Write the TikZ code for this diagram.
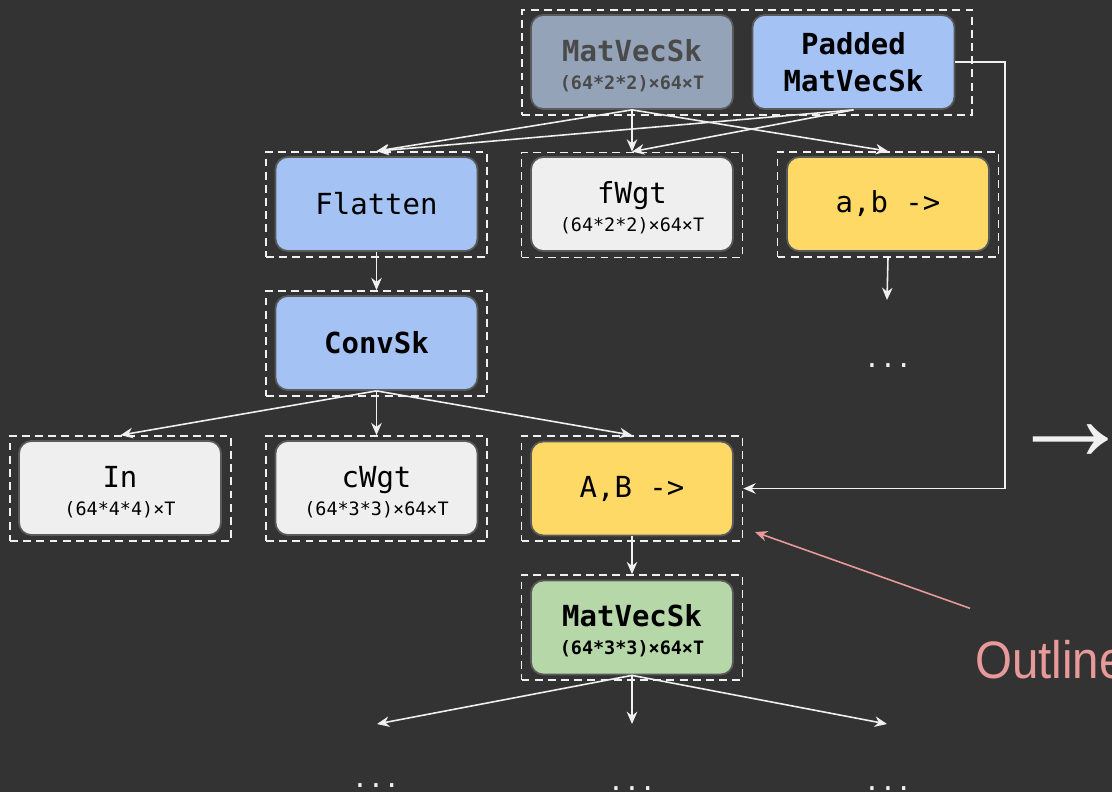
\documentclass[tikz,border=0pt]{standalone}
\usepackage{fontspec}
\setmainfont{Liberation Sans}
\setmonofont{DejaVu Sans Mono}
\newfontfamily\outlinefont[FakeStretch=0.9]{Liberation Sans}
\usetikzlibrary{arrows.meta}
\definecolor{bg}{HTML}{333333}
\definecolor{fg}{HTML}{F0F0F0}
\definecolor{edge}{HTML}{5A5A5A}
\definecolor{greybox}{HTML}{95A3B9}
\definecolor{greytext}{HTML}{4A4A4A}
\definecolor{bluebox}{HTML}{A4C2F4}
\definecolor{lightbox}{HTML}{EFEFEF}
\definecolor{yellowbox}{HTML}{FFD966}
\definecolor{greenbox}{HTML}{B6D7A8}
\definecolor{pink}{HTML}{E89A9A}
\newcommand{\subline}[1]{{\fontsize{10.5}{13}\selectfont #1}}
\newcommand{\tallstrut}{\rule{0pt}{16.5pt}}

\begin{document}
\begin{tikzpicture}[x=0.02cm, y=-0.02cm,
  box/.style = {draw=edge, line width=1pt, rounded corners=7pt, minimum width=4.04cm, minimum height=1.88cm, align=center, inner sep=0pt, font=\ttfamily\fontsize{16.5}{21}\selectfont},
  grp/.style = {draw=fg, line width=1pt, dash pattern=on 4.5pt off 3pt, minimum width=4.42cm, minimum height=2.1cm},
  arr/.style = {draw=fg, line width=0.9pt, -{Stealth[length=7pt,width=6pt]}},
  dots/.style = {text=fg, anchor=base, inner sep=0pt, font=\ttfamily\fontsize{15}{18}\selectfont}]
  \fill[bg] (0,0) rectangle (1112,792);
  \useasboundingbox (0,0) rectangle (1112,792);
  % top group
  \node[grp, minimum width=9cm] (topg) at (747,62.5) {};
  \node[box, fill=greybox, text=greytext, font=\ttfamily\bfseries\fontsize{16.5}{21}\selectfont] (mvs) at (632,62) {\tallstrut MatVecSk\\[-5pt]\subline{(64*2*2)×64×T}};
  \node[box, fill=bluebox, font=\ttfamily\bfseries\fontsize{16.5}{21}\selectfont] (pad) at (853.5,62) {Padded\\MatVecSk};
  % second row
  \node[grp] (flatg) at (376.5,204.5) {};
  \node[box, fill=bluebox] (flat) at (376.5,204) {Flatten};
  \node[grp] (fwgtg) at (632,205) {};
  \node[box, fill=lightbox] (fwgt) at (632,204) {\tallstrut fWgt\\[-5pt]\subline{(64*2*2)×64×T}};
  \node[grp] (abg) at (888,204.5) {};
  \node[box, fill=yellowbox] (ab) at (888,204) {a,b ->};
  \coordinate (abend) at (887,300);
  \node[dots] (dots1) at (888,367) {...};
  % conv
  \node[grp] (convg) at (376.5,343.5) {};
  \node[box, fill=bluebox, font=\ttfamily\bfseries\fontsize{16.5}{21}\selectfont] (conv) at (376.5,343) {ConvSk};
  % third row
  \node[grp] (ing) at (120.5,488.5) {};
  \node[box, fill=lightbox] (in) at (120,488) {\tallstrut In\\[-5pt]\subline{(64*4*4)×T}};
  \node[grp] (cwgtg) at (376.5,488.5) {};
  \node[box, fill=lightbox] (cwgt) at (376.5,488) {\tallstrut cWgt\\[-5pt]\subline{(64*3*3)×64×T}};
  \node[grp] (ABg) at (632,488.5) {};
  \node[box, fill=yellowbox] (AB) at (632,488.5) {A,B ->};
  % matvec
  \node[grp] (mvs2g) at (632,627.5) {};
  \node[box, fill=greenbox, font=\ttfamily\bfseries\fontsize{16.5}{21}\selectfont] (mvs2) at (632,627.5) {\tallstrut MatVecSk\\[-5pt]\subline{(64*3*3)×64×T}};
  \coordinate (e1) at (377,724);
  \coordinate (e2) at (632,724);
  \coordinate (e3) at (887,724);
  \node[dots] (dots2) at (376,787) {...};
  \node[dots] (dots3) at (632,790) {...};
  \node[dots] (dots4) at (888,790) {...};
  % right side
  \coordinate (rt) at (1005,62);
  \node[text=fg, font=\fontsize{72}{72}\selectfont, inner sep=0pt] (bigarr) at (1071,443) {→};
  \node[text=pink, font=\outlinefont\fontsize{30}{30}\selectfont, anchor=west, inner sep=0pt] (outline) at (975,660) {Outline};
  \coordinate (pinkend) at (755,532);
  % connectors
  \draw[arr] (mvs.south) -- (flatg.north);
  \draw[arr] (mvs.south) -- (fwgtg.north);
  \draw[arr] (mvs.south) -- (abg.north);
  \draw[arr] (pad.south) -- (flatg.north);
  \draw[arr] (pad.south) -- (fwgtg.north);
  \draw[arr] (pad.east) -- (rt) |- (ABg.east);
  \draw[arr] (abg.south) -- (abend);
  \draw[arr] (flat.south) -- (convg.north);
  \draw[arr] (conv.south) -- (ing.north);
  \draw[arr] (conv.south) -- (cwgtg.north);
  \draw[arr] (conv.south) -- (ABg.north);
  \draw[arr] (AB.south) -- (mvs2g.north);
  \draw[arr] (mvs2.south) -- (e1);
  \draw[arr] (mvs2.south) -- (e2);
  \draw[arr] (mvs2.south) -- (e3);
  \draw[arr, draw=pink] (outline.north west) ++(-5,-32) -- (pinkend);
\end{tikzpicture}
\end{document}
